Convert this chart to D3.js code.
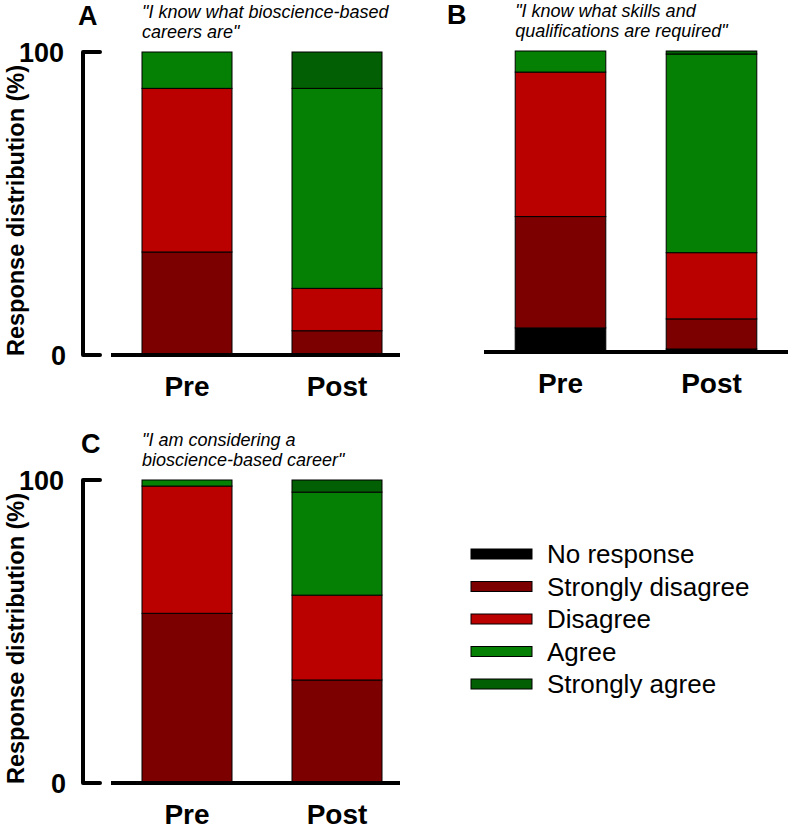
<!DOCTYPE html>
<html>
<head>
<meta charset="utf-8">
<script src="https://cdn.jsdelivr.net/npm/d3@7"></script>
<style>
  body { margin: 0; background: #fff; }
  svg { display: block; font-family: Arial, "Liberation Sans", sans-serif; }
</style>
</head>
<body>
<svg id="chart" width="790" height="830"></svg>
<script>
// response categories, stacked bottom to top
const categories = ['No response', 'Strongly disagree', 'Disagree', 'Agree', 'Strongly agree'];
const timepoints = ['Pre', 'Post'];
const yTicks = [0, 100];

// percentages per category (same order as categories)
const careersPre = [0, 34, 54, 12, 0];
const careersPost = [0, 8, 14, 66, 12];
const skillsPre = [8, 37, 48, 7, 0];
const skillsPost = [1, 10, 22, 66, 1];
const consideringPre = [0, 56, 42, 2, 0];
const consideringPost = [0, 34, 28, 34, 4];

const color = d3.scaleOrdinal()
  .domain(categories)
  .range(['#000000', '#7c0000', '#bb0000', '#058005', '#035f03']);

const svg = d3.select('#chart');

function toRows(pre, post) {
  return [pre, post].map((vals, i) => {
    const row = { time: timepoints[i] };
    categories.forEach((c, j) => row[c] = vals[j]);
    return row;
  });
}

function drawPanel(p) {
  const g = svg.append('g');
  const x = d3.scaleBand().domain(timepoints).range(p.xRange).paddingInner(0.4).paddingOuter(0.2);
  const y = d3.scaleLinear().domain([0, 100]).range(p.yRange);
  const stacked = d3.stack().keys(categories)(toRows(p.pre, p.post));

  g.selectAll('g.layer').data(stacked).enter().append('g')
    .attr('class', 'layer')
    .attr('fill', d => color(d.key))
    .selectAll('rect').data(d => d.filter(s => s[1] - s[0] > 0)).enter().append('rect')
    .attr('x', d => x(d.data.time))
    .attr('y', d => y(d[1]))
    .attr('width', x.bandwidth())
    .attr('height', d => y(d[0]) - y(d[1]))
    .attr('stroke', '#000')
    .attr('stroke-width', 1);

  // baseline
  g.append('line')
    .attr('x1', p.xRange[0] - 1).attr('x2', p.xRange[1] - p.baseTrim)
    .attr('y1', y(0)).attr('y2', y(0))
    .attr('stroke', '#000').attr('stroke-width', 4);

  if (p.yAxis) {
    const ax = p.xRange[0] - 29;
    g.append('path')
      .attr('d', `M${ax + 17},${y(100)}H${ax}V${y(0)}H${ax + 17}`)
      .attr('fill', 'none').attr('stroke', '#000').attr('stroke-width', 4)
      .attr('stroke-linecap', 'round').attr('stroke-linejoin', 'round');
    g.selectAll('text.tick').data(yTicks).enter().append('text')
      .attr('class', 'tick')
      .attr('x', d => d === 0 ? ax - 17 : ax - 19)
      .attr('y', d => y(d))
      .attr('dy', '0.36em')
      .attr('text-anchor', 'end')
      .attr('font-weight', 'bold').attr('font-size', 27)
      .text(d => d);
    g.append('text')
      .attr('transform', `translate(${ax - 59},${(y(0) + y(100)) / 2 + 7}) rotate(-90)`)
      .attr('text-anchor', 'middle')
      .attr('font-weight', 'bold').attr('font-size', 23.5)
      .text('Response distribution (%)');
  }

  g.selectAll('text.cat').data(timepoints).enter().append('text')
    .attr('class', 'cat')
    .attr('x', d => x(d) + x.bandwidth() / 2)
    .attr('y', y(0) + 41)
    .attr('text-anchor', 'middle')
    .attr('font-weight', 'bold').attr('font-size', 28)
    .text(d => d);

  g.append('text')
    .attr('x', p.letterX).attr('y', p.yRange[1] - 27)
    .attr('font-weight', 'bold').attr('font-size', 27)
    .text(p.letter);

  const q = g.append('text')
    .attr('font-style', 'italic').attr('font-size', 18);
  p.quote.forEach((line, i) => {
    q.append('tspan').attr('x', x('Pre')).attr('y', p.yRange[1] - 34 + i * 20).text(line);
  });
}

drawPanel({ letter: 'A', letterX: 78, xRange: [112, 412], yRange: [355, 52], baseTrim: 12, yAxis: true,
  pre: careersPre, post: careersPost,
  quote: ['"I know what bioscience-based', 'careers are"'] });
drawPanel({ letter: 'B', letterX: 447, xRange: [485, 787], yRange: [352, 51], baseTrim: -1, yAxis: false,
  pre: skillsPre, post: skillsPost,
  quote: ['"I know what skills and', 'qualifications are required"'] });
drawPanel({ letter: 'C', letterX: 81, xRange: [112, 412], yRange: [783, 480], baseTrim: 12, yAxis: true,
  pre: consideringPre, post: consideringPost,
  quote: ['"I am considering a', 'bioscience-based career"'] });

// legend
const legend = svg.append('g');
const ly = d3.scalePoint().domain(categories).range([554, 684]);
legend.selectAll('rect').data(categories).enter().append('rect')
  .attr('x', 471).attr('y', d => ly(d) - 5)
  .attr('width', 61).attr('height', 10)
  .attr('fill', d => color(d)).attr('stroke', '#000').attr('stroke-width', 1);
legend.selectAll('text').data(categories).enter().append('text')
  .attr('x', 547).attr('y', d => ly(d))
  .attr('dy', '0.36em')
  .attr('font-size', 26)
  .text(d => d);
</script>
</body>
</html>
